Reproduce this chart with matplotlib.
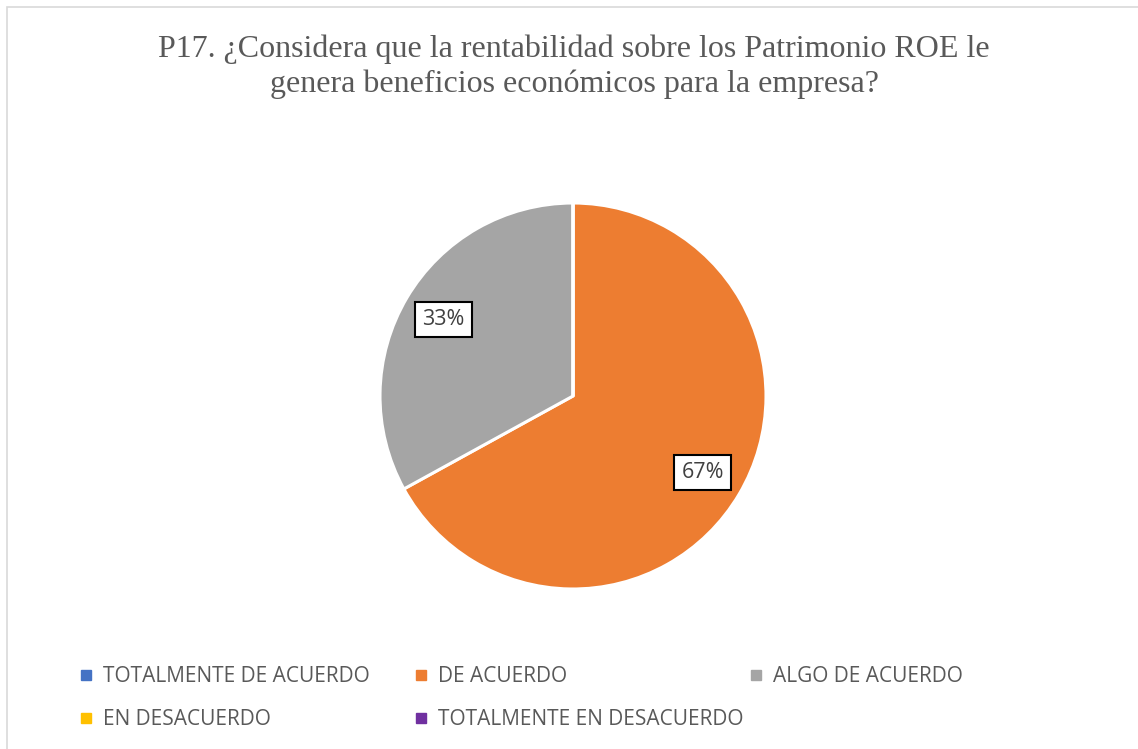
import matplotlib
matplotlib.use("Agg")
import matplotlib.pyplot as plt
from matplotlib.lines import Line2D
from matplotlib.patches import Rectangle

categories = ["TOTALMENTE DE ACUERDO", "DE ACUERDO", "ALGO DE ACUERDO",
              "EN DESACUERDO", "TOTALMENTE EN DESACUERDO"]
values = [0, 67, 33, 0, 0]
colors = ["#4472C4", "#ED7D31", "#A5A5A5", "#FFC000", "#7030A0"]
title = "P17. ¿Considera que la rentabilidad sobre los Patrimonio ROE le\ngenera beneficios económicos para la empresa?"

W, H = 1138, 749
fig = plt.figure(figsize=(W / 100, H / 100), dpi=100)
fig.patch.set_facecolor("white")

# chart border
fig.patches.append(Rectangle((6.5 / W, -0.1), 1.2, (H - 6.5) / H + 0.1,
                             transform=fig.transFigure, fill=False,
                             edgecolor="#D9D9D9", linewidth=1.2))

cx, cy, r = 573, 396, 193
ax = fig.add_axes([(cx - r) / W, (H - cy - r) / H, 2 * r / W, 2 * r / H])

def fmt(p):
    return "" if p < 0.5 else f"{p:.0f}%"

wedges, texts, autotexts = ax.pie(
    values, colors=colors, startangle=90, counterclock=False,
    autopct=fmt, pctdistance=0.78, radius=1.0,
    wedgeprops=dict(edgecolor="white", linewidth=2.2),
    textprops=dict(fontsize=15.5, color="#404040", family="Open Sans"))
for t in autotexts:
    t.set_bbox(dict(boxstyle="square,pad=0.33", facecolor="white",
                    edgecolor="black", linewidth=1.5))
ax.set_xlim(-1, 1)
ax.set_ylim(-1, 1)
ax.set_aspect("equal")
ax.axis("off")

fig.text(574 / W, 1 - 67 / H, title, ha="center", va="center",
         fontsize=23, color="#595959", family="Liberation Serif",
         linespacing=1.25)

# legend, three columns
handles = [Line2D([0], [0], marker="s", linestyle="none", markersize=7.5,
                  markerfacecolor=c, markeredgecolor=c) for c in colors]
cols = [[0, 3], [1, 4], [2]]
xs = [80, 415, 750]
for col, x in zip(cols, xs):
    leg = fig.legend([handles[i] for i in col], [categories[i] for i in col],
                     loc="upper left", bbox_to_anchor=(x / W, 1 - 666 / H),
                     frameon=False, handlelength=0.6, handletextpad=0.5,
                     labelspacing=1.05, borderpad=0, borderaxespad=0,
                     prop=dict(family="Open Sans", size=15))
    for t in leg.get_texts():
        t.set_color("#595959")

fig.savefig("out.png", dpi=100)
